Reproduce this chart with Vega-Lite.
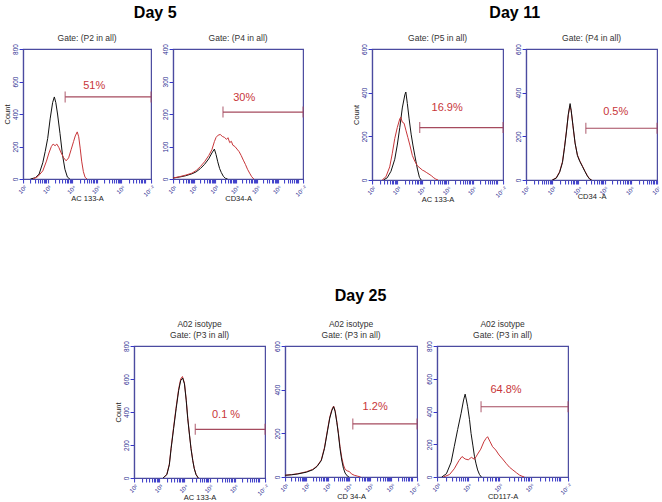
{
"$schema": "https://vega.github.io/schema/vega-lite/v6.json",
"padding": {"left": 2, "top": 5, "right": 0, "bottom": 0},
"background": "white",
"datasets": {
"curves": [
{"panel":"p1","series":"control","lx":2.3,"count":0},{"panel":"p1","series":"control","lx":2.5,"count":8},{"panel":"p1","series":"control","lx":2.65,"count":30},{"panel":"p1","series":"control","lx":2.8,"count":100},{"panel":"p1","series":"control","lx":2.9,"count":170},{"panel":"p1","series":"control","lx":3.0,"count":250},{"panel":"p1","series":"control","lx":3.1,"count":370},{"panel":"p1","series":"control","lx":3.2,"count":470},{"panel":"p1","series":"control","lx":3.27,"count":505},{"panel":"p1","series":"control","lx":3.33,"count":470},{"panel":"p1","series":"control","lx":3.4,"count":400},{"panel":"p1","series":"control","lx":3.5,"count":280},{"panel":"p1","series":"control","lx":3.6,"count":150},{"panel":"p1","series":"control","lx":3.7,"count":60},{"panel":"p1","series":"control","lx":3.8,"count":12},{"panel":"p1","series":"control","lx":3.9,"count":0},
{"panel":"p1","series":"sample","lx":2.4,"count":0},{"panel":"p1","series":"sample","lx":2.6,"count":15},{"panel":"p1","series":"sample","lx":2.8,"count":50},{"panel":"p1","series":"sample","lx":2.95,"count":110},{"panel":"p1","series":"sample","lx":3.05,"count":160},{"panel":"p1","series":"sample","lx":3.15,"count":200},{"panel":"p1","series":"sample","lx":3.22,"count":215},{"panel":"p1","series":"sample","lx":3.3,"count":205},{"panel":"p1","series":"sample","lx":3.37,"count":215},{"panel":"p1","series":"sample","lx":3.45,"count":195},{"panel":"p1","series":"sample","lx":3.55,"count":160},{"panel":"p1","series":"sample","lx":3.65,"count":130},{"panel":"p1","series":"sample","lx":3.75,"count":112},{"panel":"p1","series":"sample","lx":3.85,"count":130},{"panel":"p1","series":"sample","lx":3.95,"count":180},{"panel":"p1","series":"sample","lx":4.05,"count":230},{"panel":"p1","series":"sample","lx":4.12,"count":265},{"panel":"p1","series":"sample","lx":4.2,"count":290},{"panel":"p1","series":"sample","lx":4.26,"count":260},{"panel":"p1","series":"sample","lx":4.32,"count":190},{"panel":"p1","series":"sample","lx":4.38,"count":110},{"panel":"p1","series":"sample","lx":4.45,"count":45},{"panel":"p1","series":"sample","lx":4.52,"count":10},{"panel":"p1","series":"sample","lx":4.6,"count":0},
{"panel":"p2","series":"control","lx":1.0,"count":3},{"panel":"p2","series":"control","lx":1.3,"count":6},{"panel":"p2","series":"control","lx":1.6,"count":10},{"panel":"p2","series":"control","lx":1.9,"count":16},{"panel":"p2","series":"control","lx":2.1,"count":22},{"panel":"p2","series":"control","lx":2.3,"count":32},{"panel":"p2","series":"control","lx":2.5,"count":45},{"panel":"p2","series":"control","lx":2.7,"count":62},{"panel":"p2","series":"control","lx":2.85,"count":80},{"panel":"p2","series":"control","lx":2.97,"count":92},{"panel":"p2","series":"control","lx":3.05,"count":75},{"panel":"p2","series":"control","lx":3.13,"count":53},{"panel":"p2","series":"control","lx":3.22,"count":32},{"panel":"p2","series":"control","lx":3.3,"count":20},{"panel":"p2","series":"control","lx":3.4,"count":8},{"panel":"p2","series":"control","lx":3.5,"count":2},{"panel":"p2","series":"control","lx":3.6,"count":0},
{"panel":"p2","series":"sample","lx":1.0,"count":3},{"panel":"p2","series":"sample","lx":1.3,"count":7},{"panel":"p2","series":"sample","lx":1.6,"count":12},{"panel":"p2","series":"sample","lx":1.9,"count":18},{"panel":"p2","series":"sample","lx":2.1,"count":26},{"panel":"p2","series":"sample","lx":2.3,"count":38},{"panel":"p2","series":"sample","lx":2.5,"count":53},{"panel":"p2","series":"sample","lx":2.7,"count":72},{"panel":"p2","series":"sample","lx":2.85,"count":90},{"panel":"p2","series":"sample","lx":2.97,"count":115},{"panel":"p2","series":"sample","lx":3.05,"count":128},{"panel":"p2","series":"sample","lx":3.15,"count":135},{"panel":"p2","series":"sample","lx":3.25,"count":137},{"panel":"p2","series":"sample","lx":3.35,"count":131},{"panel":"p2","series":"sample","lx":3.45,"count":128},{"panel":"p2","series":"sample","lx":3.55,"count":122},{"panel":"p2","series":"sample","lx":3.62,"count":127},{"panel":"p2","series":"sample","lx":3.7,"count":112},{"panel":"p2","series":"sample","lx":3.78,"count":116},{"panel":"p2","series":"sample","lx":3.85,"count":104},{"panel":"p2","series":"sample","lx":3.95,"count":100},{"panel":"p2","series":"sample","lx":4.05,"count":92},{"panel":"p2","series":"sample","lx":4.15,"count":84},{"panel":"p2","series":"sample","lx":4.25,"count":72},{"panel":"p2","series":"sample","lx":4.35,"count":58},{"panel":"p2","series":"sample","lx":4.45,"count":45},{"panel":"p2","series":"sample","lx":4.55,"count":30},{"panel":"p2","series":"sample","lx":4.65,"count":18},{"panel":"p2","series":"sample","lx":4.75,"count":7},{"panel":"p2","series":"sample","lx":4.85,"count":0},
{"panel":"p3","series":"control","lx":2.45,"count":0},{"panel":"p3","series":"control","lx":2.6,"count":10},{"panel":"p3","series":"control","lx":2.75,"count":40},{"panel":"p3","series":"control","lx":2.9,"count":95},{"panel":"p3","series":"control","lx":3.0,"count":160},{"panel":"p3","series":"control","lx":3.1,"count":240},{"panel":"p3","series":"control","lx":3.2,"count":330},{"panel":"p3","series":"control","lx":3.3,"count":390},{"panel":"p3","series":"control","lx":3.34,"count":403},{"panel":"p3","series":"control","lx":3.4,"count":350},{"panel":"p3","series":"control","lx":3.47,"count":280},{"panel":"p3","series":"control","lx":3.55,"count":210},{"panel":"p3","series":"control","lx":3.62,"count":160},{"panel":"p3","series":"control","lx":3.7,"count":110},{"panel":"p3","series":"control","lx":3.8,"count":50},{"panel":"p3","series":"control","lx":3.88,"count":12},{"panel":"p3","series":"control","lx":3.95,"count":0},
{"panel":"p3","series":"sample","lx":2.4,"count":0},{"panel":"p3","series":"sample","lx":2.55,"count":15},{"panel":"p3","series":"sample","lx":2.7,"count":60},{"panel":"p3","series":"sample","lx":2.8,"count":120},{"panel":"p3","series":"sample","lx":2.9,"count":190},{"panel":"p3","series":"sample","lx":3.0,"count":240},{"panel":"p3","series":"sample","lx":3.1,"count":280},{"panel":"p3","series":"sample","lx":3.14,"count":288},{"panel":"p3","series":"sample","lx":3.2,"count":265},{"panel":"p3","series":"sample","lx":3.27,"count":260},{"panel":"p3","series":"sample","lx":3.35,"count":225},{"panel":"p3","series":"sample","lx":3.42,"count":195},{"panel":"p3","series":"sample","lx":3.5,"count":160},{"panel":"p3","series":"sample","lx":3.6,"count":112},{"panel":"p3","series":"sample","lx":3.7,"count":85},{"panel":"p3","series":"sample","lx":3.8,"count":65},{"panel":"p3","series":"sample","lx":3.9,"count":55},{"panel":"p3","series":"sample","lx":4.0,"count":45},{"panel":"p3","series":"sample","lx":4.06,"count":42},{"panel":"p3","series":"sample","lx":4.15,"count":35},{"panel":"p3","series":"sample","lx":4.26,"count":27},{"panel":"p3","series":"sample","lx":4.35,"count":20},{"panel":"p3","series":"sample","lx":4.45,"count":10},{"panel":"p3","series":"sample","lx":4.53,"count":4},{"panel":"p3","series":"sample","lx":4.62,"count":0},
{"panel":"p4","series":"sample","lx":3.0,"count":0},{"panel":"p4","series":"sample","lx":3.15,"count":10},{"panel":"p4","series":"sample","lx":3.28,"count":38},{"panel":"p4","series":"sample","lx":3.39,"count":85},{"panel":"p4","series":"sample","lx":3.47,"count":155},{"panel":"p4","series":"sample","lx":3.54,"count":225},{"panel":"p4","series":"sample","lx":3.61,"count":295},{"panel":"p4","series":"sample","lx":3.67,"count":340},{"panel":"p4","series":"sample","lx":3.72,"count":318},{"panel":"p4","series":"sample","lx":3.79,"count":245},{"panel":"p4","series":"sample","lx":3.87,"count":168},{"panel":"p4","series":"sample","lx":3.96,"count":115},{"panel":"p4","series":"sample","lx":4.05,"count":88},{"panel":"p4","series":"sample","lx":4.15,"count":64},{"panel":"p4","series":"sample","lx":4.25,"count":40},{"panel":"p4","series":"sample","lx":4.34,"count":20},{"panel":"p4","series":"sample","lx":4.42,"count":6},{"panel":"p4","series":"sample","lx":4.5,"count":0},
{"panel":"p4","series":"control","lx":3.0,"count":0},{"panel":"p4","series":"control","lx":3.15,"count":8},{"panel":"p4","series":"control","lx":3.28,"count":35},{"panel":"p4","series":"control","lx":3.39,"count":80},{"panel":"p4","series":"control","lx":3.47,"count":150},{"panel":"p4","series":"control","lx":3.54,"count":220},{"panel":"p4","series":"control","lx":3.61,"count":300},{"panel":"p4","series":"control","lx":3.68,"count":350},{"panel":"p4","series":"control","lx":3.72,"count":320},{"panel":"p4","series":"control","lx":3.79,"count":250},{"panel":"p4","series":"control","lx":3.87,"count":170},{"panel":"p4","series":"control","lx":3.96,"count":112},{"panel":"p4","series":"control","lx":4.05,"count":85},{"panel":"p4","series":"control","lx":4.15,"count":62},{"panel":"p4","series":"control","lx":4.25,"count":38},{"panel":"p4","series":"control","lx":4.34,"count":18},{"panel":"p4","series":"control","lx":4.42,"count":5},{"panel":"p4","series":"control","lx":4.5,"count":0},
{"panel":"p5","series":"sample","lx":3.15,"count":0},{"panel":"p5","series":"sample","lx":3.3,"count":22},{"panel":"p5","series":"sample","lx":3.4,"count":85},{"panel":"p5","series":"sample","lx":3.47,"count":185},{"panel":"p5","series":"sample","lx":3.57,"count":310},{"panel":"p5","series":"sample","lx":3.67,"count":430},{"panel":"p5","series":"sample","lx":3.77,"count":540},{"panel":"p5","series":"sample","lx":3.85,"count":600},{"panel":"p5","series":"sample","lx":3.92,"count":615},{"panel":"p5","series":"sample","lx":4.0,"count":575},{"panel":"p5","series":"sample","lx":4.07,"count":475},{"panel":"p5","series":"sample","lx":4.13,"count":365},{"panel":"p5","series":"sample","lx":4.2,"count":262},{"panel":"p5","series":"sample","lx":4.26,"count":180},{"panel":"p5","series":"sample","lx":4.33,"count":108},{"panel":"p5","series":"sample","lx":4.39,"count":58},{"panel":"p5","series":"sample","lx":4.46,"count":22},{"panel":"p5","series":"sample","lx":4.55,"count":0},
{"panel":"p5","series":"control","lx":3.15,"count":0},{"panel":"p5","series":"control","lx":3.3,"count":20},{"panel":"p5","series":"control","lx":3.4,"count":80},{"panel":"p5","series":"control","lx":3.47,"count":178},{"panel":"p5","series":"control","lx":3.57,"count":300},{"panel":"p5","series":"control","lx":3.67,"count":420},{"panel":"p5","series":"control","lx":3.77,"count":530},{"panel":"p5","series":"control","lx":3.85,"count":590},{"panel":"p5","series":"control","lx":3.93,"count":606},{"panel":"p5","series":"control","lx":4.0,"count":570},{"panel":"p5","series":"control","lx":4.07,"count":470},{"panel":"p5","series":"control","lx":4.13,"count":359},{"panel":"p5","series":"control","lx":4.2,"count":260},{"panel":"p5","series":"control","lx":4.26,"count":178},{"panel":"p5","series":"control","lx":4.33,"count":105},{"panel":"p5","series":"control","lx":4.39,"count":56},{"panel":"p5","series":"control","lx":4.46,"count":20},{"panel":"p5","series":"control","lx":4.55,"count":0},
{"panel":"p6","series":"sample","lx":1.0,"count":8},{"panel":"p6","series":"sample","lx":1.3,"count":11},{"panel":"p6","series":"sample","lx":1.6,"count":15},{"panel":"p6","series":"sample","lx":2.0,"count":24},{"panel":"p6","series":"sample","lx":2.3,"count":35},{"panel":"p6","series":"sample","lx":2.5,"count":50},{"panel":"p6","series":"sample","lx":2.7,"count":78},{"panel":"p6","series":"sample","lx":2.85,"count":135},{"panel":"p6","series":"sample","lx":3.0,"count":220},{"panel":"p6","series":"sample","lx":3.1,"count":275},{"panel":"p6","series":"sample","lx":3.2,"count":310},{"panel":"p6","series":"sample","lx":3.28,"count":325},{"panel":"p6","series":"sample","lx":3.35,"count":305},{"panel":"p6","series":"sample","lx":3.43,"count":255},{"panel":"p6","series":"sample","lx":3.5,"count":205},{"panel":"p6","series":"sample","lx":3.58,"count":140},{"panel":"p6","series":"sample","lx":3.66,"count":90},{"panel":"p6","series":"sample","lx":3.74,"count":55},{"panel":"p6","series":"sample","lx":3.82,"count":35},{"panel":"p6","series":"sample","lx":3.92,"count":28},{"panel":"p6","series":"sample","lx":4.02,"count":25},{"panel":"p6","series":"sample","lx":4.12,"count":14},{"panel":"p6","series":"sample","lx":4.25,"count":8},{"panel":"p6","series":"sample","lx":4.4,"count":4},{"panel":"p6","series":"sample","lx":4.55,"count":0},
{"panel":"p6","series":"control","lx":1.0,"count":8},{"panel":"p6","series":"control","lx":1.3,"count":10},{"panel":"p6","series":"control","lx":1.6,"count":14},{"panel":"p6","series":"control","lx":2.0,"count":22},{"panel":"p6","series":"control","lx":2.3,"count":33},{"panel":"p6","series":"control","lx":2.5,"count":48},{"panel":"p6","series":"control","lx":2.7,"count":75},{"panel":"p6","series":"control","lx":2.85,"count":130},{"panel":"p6","series":"control","lx":3.0,"count":215},{"panel":"p6","series":"control","lx":3.1,"count":270},{"panel":"p6","series":"control","lx":3.2,"count":305},{"panel":"p6","series":"control","lx":3.28,"count":322},{"panel":"p6","series":"control","lx":3.35,"count":300},{"panel":"p6","series":"control","lx":3.43,"count":250},{"panel":"p6","series":"control","lx":3.5,"count":200},{"panel":"p6","series":"control","lx":3.58,"count":130},{"panel":"p6","series":"control","lx":3.66,"count":78},{"panel":"p6","series":"control","lx":3.74,"count":40},{"panel":"p6","series":"control","lx":3.82,"count":18},{"panel":"p6","series":"control","lx":3.92,"count":5},{"panel":"p6","series":"control","lx":4.0,"count":0},
{"panel":"p7","series":"control","lx":3.15,"count":0},{"panel":"p7","series":"control","lx":3.3,"count":20},{"panel":"p7","series":"control","lx":3.45,"count":90},{"panel":"p7","series":"control","lx":3.55,"count":185},{"panel":"p7","series":"control","lx":3.66,"count":290},{"panel":"p7","series":"control","lx":3.77,"count":389},{"panel":"p7","series":"control","lx":3.85,"count":470},{"panel":"p7","series":"control","lx":3.9,"count":506},{"panel":"p7","series":"control","lx":3.94,"count":470},{"panel":"p7","series":"control","lx":3.98,"count":429},{"panel":"p7","series":"control","lx":4.04,"count":350},{"panel":"p7","series":"control","lx":4.09,"count":266},{"panel":"p7","series":"control","lx":4.15,"count":190},{"panel":"p7","series":"control","lx":4.2,"count":124},{"panel":"p7","series":"control","lx":4.25,"count":80},{"panel":"p7","series":"control","lx":4.3,"count":43},{"panel":"p7","series":"control","lx":4.36,"count":15},{"panel":"p7","series":"control","lx":4.42,"count":0},
{"panel":"p7","series":"sample","lx":3.2,"count":0},{"panel":"p7","series":"sample","lx":3.4,"count":15},{"panel":"p7","series":"sample","lx":3.55,"count":50},{"panel":"p7","series":"sample","lx":3.7,"count":100},{"panel":"p7","series":"sample","lx":3.8,"count":125},{"panel":"p7","series":"sample","lx":3.9,"count":110},{"panel":"p7","series":"sample","lx":4.0,"count":105},{"panel":"p7","series":"sample","lx":4.1,"count":120},{"panel":"p7","series":"sample","lx":4.2,"count":108},{"panel":"p7","series":"sample","lx":4.3,"count":140},{"panel":"p7","series":"sample","lx":4.4,"count":170},{"panel":"p7","series":"sample","lx":4.5,"count":215},{"panel":"p7","series":"sample","lx":4.57,"count":236},{"panel":"p7","series":"sample","lx":4.62,"count":246},{"panel":"p7","series":"sample","lx":4.7,"count":215},{"panel":"p7","series":"sample","lx":4.78,"count":185},{"panel":"p7","series":"sample","lx":4.88,"count":165},{"panel":"p7","series":"sample","lx":4.99,"count":134},{"panel":"p7","series":"sample","lx":5.1,"count":110},{"panel":"p7","series":"sample","lx":5.21,"count":84},{"panel":"p7","series":"sample","lx":5.32,"count":60},{"panel":"p7","series":"sample","lx":5.43,"count":43},{"panel":"p7","series":"sample","lx":5.55,"count":25},{"panel":"p7","series":"sample","lx":5.64,"count":12},{"panel":"p7","series":"sample","lx":5.72,"count":5},{"panel":"p7","series":"sample","lx":5.8,"count":0}
],
"gates": [
{"panel":"p1","x1":3.71,"x2":7.2,"gy":505,"label":"51%","tx":4.89,"ty":572},
{"panel":"p2","x1":3.38,"x2":7.2,"gy":206,"label":"30%","tx":4.39,"ty":249},
{"panel":"p3","x1":3.89,"x2":7.2,"gy":240,"label":"16.9%","tx":4.98,"ty":332},
{"panel":"p4","x1":4.28,"x2":7.0,"gy":237,"label":"0.5%","tx":5.42,"ty":311},
{"panel":"p5","x1":4.43,"x2":7.2,"gy":295,"label":"0.1 %","tx":5.65,"ty":382},
{"panel":"p6","x1":4.18,"x2":7.2,"gy":243,"label":"1.2%","tx":5.23,"ty":321},
{"panel":"p7","x1":4.41,"x2":7.2,"gy":429,"label":"64.8%","tx":5.21,"ty":531}
]
},
"vconcat": [
{"hconcat": [
 {"title": {"text": "Day 5", "fontSize": 16, "fontWeight": "bold", "color": "#000000", "anchor": "middle", "offset": 12},
  "bounds": "flush", "spacing": 22,
  "hconcat": [
  {"width": 128, "height": 130, "title": "Gate: (P2 in all)",
   "layer": [
    {"data": {"name": "curves"}, "transform": [{"filter": "datum.panel == 'p1'"}],
     "mark": {"type": "line", "strokeWidth": 1, "clip": true},
     "encoding": {
      "x": {"field": "lx", "type": "quantitative", "scale": {"domain": [2, 7.2], "nice": false, "zero": false},
            "axis": {"title": "AC 133-A", "tickCount": 200, "values": [2,2.301,2.477,2.602,2.699,2.778,2.845,2.903,2.954,3,3.301,3.477,3.602,3.699,3.778,3.845,3.903,3.954,4,4.301,4.477,4.602,4.699,4.778,4.845,4.903,4.954,5,5.301,5.477,5.602,5.699,5.778,5.845,5.903,5.954,6,6.301,6.477,6.602,6.699,6.778,6.845,6.903,6.954,7.2],
                     "labelExpr": "datum.value == 7.2 ? '10⁷·²' : (datum.value == floor(datum.value) ? '10' + ['⁰','¹','²','³','⁴','⁵','⁶','⁷'][datum.value] : '')"}},
      "y": {"field": "count", "type": "quantitative", "scale": {"domain": [0, 800], "nice": false},
            "axis": {"title": "Count", "tickCount": 50, "values": [0,200,400,600,800]}},
      "color": {"field": "series", "type": "nominal", "scale": {"domain": ["control", "sample"], "range": ["#111111", "#c8363a"]}, "legend": null}}},
    {"data": {"name": "gates"}, "transform": [{"filter": "datum.panel == 'p1'"}],
     "mark": {"type": "rule", "color": "#a54a5e", "strokeWidth": 1.2},
     "encoding": {"x": {"field": "x1", "type": "quantitative"}, "x2": {"field": "x2"}, "y": {"field": "gy", "type": "quantitative"}}},
    {"data": {"name": "gates"}, "transform": [{"filter": "datum.panel == 'p1'"}],
     "mark": {"type": "tick", "orient": "vertical", "size": 11, "thickness": 1.3, "color": "#a54a5e"},
     "encoding": {"x": {"field": "x1", "type": "quantitative"}, "y": {"field": "gy", "type": "quantitative"}}},
    {"data": {"name": "gates"}, "transform": [{"filter": "datum.panel == 'p1'"}],
     "mark": {"type": "tick", "orient": "vertical", "size": 11, "thickness": 1.3, "color": "#a54a5e"},
     "encoding": {"x": {"field": "x2", "type": "quantitative"}, "y": {"field": "gy", "type": "quantitative"}}},
    {"data": {"name": "gates"}, "transform": [{"filter": "datum.panel == 'p1'"}],
     "mark": {"type": "text", "color": "#c8363a", "fontSize": 11},
     "encoding": {"x": {"field": "tx", "type": "quantitative"}, "y": {"field": "ty", "type": "quantitative"}, "text": {"field": "label"}}}
   ]},
  {"width": 130, "height": 130, "title": "Gate: (P4 in all)",
   "layer": [
    {"data": {"name": "curves"}, "transform": [{"filter": "datum.panel == 'p2'"}],
     "mark": {"type": "line", "strokeWidth": 1, "clip": true},
     "encoding": {
      "x": {"field": "lx", "type": "quantitative", "scale": {"domain": [1, 7.2], "nice": false, "zero": false},
            "axis": {"title": "CD34-A", "tickCount": 200, "values": [1,1.301,1.477,1.602,1.699,1.778,1.845,1.903,1.954,2,2.301,2.477,2.602,2.699,2.778,2.845,2.903,2.954,3,3.301,3.477,3.602,3.699,3.778,3.845,3.903,3.954,4,4.301,4.477,4.602,4.699,4.778,4.845,4.903,4.954,5,5.301,5.477,5.602,5.699,5.778,5.845,5.903,5.954,6,6.301,6.477,6.602,6.699,6.778,6.845,6.903,6.954,7.2],
                     "labelExpr": "datum.value == 7.2 ? '10⁷·²' : (datum.value == floor(datum.value) ? '10' + ['⁰','¹','²','³','⁴','⁵','⁶','⁷'][datum.value] : '')"}},
      "y": {"field": "count", "type": "quantitative", "scale": {"domain": [0, 400], "nice": false},
            "axis": {"title": null, "tickCount": 50, "values": [0,100,200,300,400]}},
      "color": {"field": "series", "type": "nominal", "scale": {"domain": ["control", "sample"], "range": ["#111111", "#c8363a"]}, "legend": null}}},
    {"data": {"name": "gates"}, "transform": [{"filter": "datum.panel == 'p2'"}],
     "mark": {"type": "rule", "color": "#a54a5e", "strokeWidth": 1.2},
     "encoding": {"x": {"field": "x1", "type": "quantitative"}, "x2": {"field": "x2"}, "y": {"field": "gy", "type": "quantitative"}}},
    {"data": {"name": "gates"}, "transform": [{"filter": "datum.panel == 'p2'"}],
     "mark": {"type": "tick", "orient": "vertical", "size": 11, "thickness": 1.3, "color": "#a54a5e"},
     "encoding": {"x": {"field": "x1", "type": "quantitative"}, "y": {"field": "gy", "type": "quantitative"}}},
    {"data": {"name": "gates"}, "transform": [{"filter": "datum.panel == 'p2'"}],
     "mark": {"type": "tick", "orient": "vertical", "size": 11, "thickness": 1.3, "color": "#a54a5e"},
     "encoding": {"x": {"field": "x2", "type": "quantitative"}, "y": {"field": "gy", "type": "quantitative"}}},
    {"data": {"name": "gates"}, "transform": [{"filter": "datum.panel == 'p2'"}],
     "mark": {"type": "text", "color": "#c8363a", "fontSize": 11},
     "encoding": {"x": {"field": "tx", "type": "quantitative"}, "y": {"field": "ty", "type": "quantitative"}, "text": {"field": "label"}}}
   ]}
 ]},
 {"title": {"text": "Day 11", "fontSize": 16, "fontWeight": "bold", "color": "#000000", "anchor": "middle", "offset": 12, "dx": 8},
  "bounds": "flush", "spacing": 23,
  "hconcat": [
  {"width": 131, "height": 131, "title": "Gate: (P5 in all)",
   "layer": [
    {"data": {"name": "curves"}, "transform": [{"filter": "datum.panel == 'p3'"}],
     "mark": {"type": "line", "strokeWidth": 1, "clip": true},
     "encoding": {
      "x": {"field": "lx", "type": "quantitative", "scale": {"domain": [2, 7.2], "nice": false, "zero": false},
            "axis": {"title": "AC 133-A", "tickCount": 200, "values": [2,2.301,2.477,2.602,2.699,2.778,2.845,2.903,2.954,3,3.301,3.477,3.602,3.699,3.778,3.845,3.903,3.954,4,4.301,4.477,4.602,4.699,4.778,4.845,4.903,4.954,5,5.301,5.477,5.602,5.699,5.778,5.845,5.903,5.954,6,6.301,6.477,6.602,6.699,6.778,6.845,6.903,6.954,7.2],
                     "labelExpr": "datum.value == 7.2 ? '10⁷·²' : (datum.value == floor(datum.value) ? '10' + ['⁰','¹','²','³','⁴','⁵','⁶','⁷'][datum.value] : '')"}},
      "y": {"field": "count", "type": "quantitative", "scale": {"domain": [0, 600], "nice": false},
            "axis": {"title": "Count", "tickCount": 50, "values": [0,200,400,600]}},
      "color": {"field": "series", "type": "nominal", "scale": {"domain": ["control", "sample"], "range": ["#111111", "#c8363a"]}, "legend": null}}},
    {"data": {"name": "gates"}, "transform": [{"filter": "datum.panel == 'p3'"}],
     "mark": {"type": "rule", "color": "#a54a5e", "strokeWidth": 1.2},
     "encoding": {"x": {"field": "x1", "type": "quantitative"}, "x2": {"field": "x2"}, "y": {"field": "gy", "type": "quantitative"}}},
    {"data": {"name": "gates"}, "transform": [{"filter": "datum.panel == 'p3'"}],
     "mark": {"type": "tick", "orient": "vertical", "size": 11, "thickness": 1.3, "color": "#a54a5e"},
     "encoding": {"x": {"field": "x1", "type": "quantitative"}, "y": {"field": "gy", "type": "quantitative"}}},
    {"data": {"name": "gates"}, "transform": [{"filter": "datum.panel == 'p3'"}],
     "mark": {"type": "tick", "orient": "vertical", "size": 11, "thickness": 1.3, "color": "#a54a5e"},
     "encoding": {"x": {"field": "x2", "type": "quantitative"}, "y": {"field": "gy", "type": "quantitative"}}},
    {"data": {"name": "gates"}, "transform": [{"filter": "datum.panel == 'p3'"}],
     "mark": {"type": "text", "color": "#c8363a", "fontSize": 11},
     "encoding": {"x": {"field": "tx", "type": "quantitative"}, "y": {"field": "ty", "type": "quantitative"}, "text": {"field": "label"}}}
   ]},
  {"width": 131, "height": 131, "title": "Gate: (P4 in all)",
   "layer": [
    {"data": {"name": "curves"}, "transform": [{"filter": "datum.panel == 'p4'"}],
     "mark": {"type": "line", "strokeWidth": 1, "clip": true},
     "encoding": {
      "x": {"field": "lx", "type": "quantitative", "scale": {"domain": [2, 7], "nice": false, "zero": false},
            "axis": {"title": "CD34 -A", "tickCount": 200, "values": [2,2.301,2.477,2.602,2.699,2.778,2.845,2.903,2.954,3,3.301,3.477,3.602,3.699,3.778,3.845,3.903,3.954,4,4.301,4.477,4.602,4.699,4.778,4.845,4.903,4.954,5,5.301,5.477,5.602,5.699,5.778,5.845,5.903,5.954,6,6.301,6.477,6.602,6.699,6.778,6.845,6.903,6.954,7],
                     "labelExpr": "datum.value == 7.2 ? '10⁷·²' : (datum.value == floor(datum.value) ? '10' + ['⁰','¹','²','³','⁴','⁵','⁶','⁷'][datum.value] : '')"}},
      "y": {"field": "count", "type": "quantitative", "scale": {"domain": [0, 600], "nice": false},
            "axis": {"title": null, "tickCount": 50, "values": [0,200,400,600]}},
      "color": {"field": "series", "type": "nominal", "scale": {"domain": ["control", "sample"], "range": ["#111111", "#c8363a"]}, "legend": null}}},
    {"data": {"name": "gates"}, "transform": [{"filter": "datum.panel == 'p4'"}],
     "mark": {"type": "rule", "color": "#a54a5e", "strokeWidth": 1.2},
     "encoding": {"x": {"field": "x1", "type": "quantitative"}, "x2": {"field": "x2"}, "y": {"field": "gy", "type": "quantitative"}}},
    {"data": {"name": "gates"}, "transform": [{"filter": "datum.panel == 'p4'"}],
     "mark": {"type": "tick", "orient": "vertical", "size": 11, "thickness": 1.3, "color": "#a54a5e"},
     "encoding": {"x": {"field": "x1", "type": "quantitative"}, "y": {"field": "gy", "type": "quantitative"}}},
    {"data": {"name": "gates"}, "transform": [{"filter": "datum.panel == 'p4'"}],
     "mark": {"type": "tick", "orient": "vertical", "size": 11, "thickness": 1.3, "color": "#a54a5e"},
     "encoding": {"x": {"field": "x2", "type": "quantitative"}, "y": {"field": "gy", "type": "quantitative"}}},
    {"data": {"name": "gates"}, "transform": [{"filter": "datum.panel == 'p4'"}],
     "mark": {"type": "text", "color": "#c8363a", "fontSize": 11},
     "encoding": {"x": {"field": "tx", "type": "quantitative"}, "y": {"field": "ty", "type": "quantitative"}, "text": {"field": "label"}}}
   ]}
 ]}
], "spacing": 43},
{"title": {"text": "Day 25", "fontSize": 16, "fontWeight": "bold", "color": "#000000", "anchor": "middle", "offset": 15, "dx": 18},
 "bounds": "flush", "spacing": 20,
 "hconcat": [
  {"width": 2, "height": 131, "data": {"values": []}, "mark": "point", "view": {"stroke": null}},
  {"width": 131, "height": 132, "title": {"text": ["A02 isotype", "Gate: (P3 in all)"]},
   "layer": [
    {"data": {"name": "curves"}, "transform": [{"filter": "datum.panel == 'p5'"}],
     "mark": {"type": "line", "strokeWidth": 1, "clip": true},
     "encoding": {
      "x": {"field": "lx", "type": "quantitative", "scale": {"domain": [2, 7.2], "nice": false, "zero": false},
            "axis": {"title": "AC 133-A", "tickCount": 200, "values": [2,2.301,2.477,2.602,2.699,2.778,2.845,2.903,2.954,3,3.301,3.477,3.602,3.699,3.778,3.845,3.903,3.954,4,4.301,4.477,4.602,4.699,4.778,4.845,4.903,4.954,5,5.301,5.477,5.602,5.699,5.778,5.845,5.903,5.954,6,6.301,6.477,6.602,6.699,6.778,6.845,6.903,6.954,7.2],
                     "labelExpr": "datum.value == 7.2 ? '10⁷·²' : (datum.value == floor(datum.value) ? '10' + ['⁰','¹','²','³','⁴','⁵','⁶','⁷'][datum.value] : '')"}},
      "y": {"field": "count", "type": "quantitative", "scale": {"domain": [0, 800], "nice": false},
            "axis": {"title": "Count", "tickCount": 50, "values": [0,200,400,600,800]}},
      "color": {"field": "series", "type": "nominal", "scale": {"domain": ["control", "sample"], "range": ["#111111", "#c8363a"]}, "legend": null}}},
    {"data": {"name": "gates"}, "transform": [{"filter": "datum.panel == 'p5'"}],
     "mark": {"type": "rule", "color": "#a54a5e", "strokeWidth": 1.2},
     "encoding": {"x": {"field": "x1", "type": "quantitative"}, "x2": {"field": "x2"}, "y": {"field": "gy", "type": "quantitative"}}},
    {"data": {"name": "gates"}, "transform": [{"filter": "datum.panel == 'p5'"}],
     "mark": {"type": "tick", "orient": "vertical", "size": 11, "thickness": 1.3, "color": "#a54a5e"},
     "encoding": {"x": {"field": "x1", "type": "quantitative"}, "y": {"field": "gy", "type": "quantitative"}}},
    {"data": {"name": "gates"}, "transform": [{"filter": "datum.panel == 'p5'"}],
     "mark": {"type": "tick", "orient": "vertical", "size": 11, "thickness": 1.3, "color": "#a54a5e"},
     "encoding": {"x": {"field": "x2", "type": "quantitative"}, "y": {"field": "gy", "type": "quantitative"}}},
    {"data": {"name": "gates"}, "transform": [{"filter": "datum.panel == 'p5'"}],
     "mark": {"type": "text", "color": "#c8363a", "fontSize": 11},
     "encoding": {"x": {"field": "tx", "type": "quantitative"}, "y": {"field": "ty", "type": "quantitative"}, "text": {"field": "label"}}}
   ]},
  {"width": 132, "height": 131, "title": {"text": ["A02 isotype", "Gate: (P3 in all)"]},
   "layer": [
    {"data": {"name": "curves"}, "transform": [{"filter": "datum.panel == 'p6'"}],
     "mark": {"type": "line", "strokeWidth": 1, "clip": true},
     "encoding": {
      "x": {"field": "lx", "type": "quantitative", "scale": {"domain": [1, 7.2], "nice": false, "zero": false},
            "axis": {"title": "CD 34-A", "tickCount": 200, "values": [1,1.301,1.477,1.602,1.699,1.778,1.845,1.903,1.954,2,2.301,2.477,2.602,2.699,2.778,2.845,2.903,2.954,3,3.301,3.477,3.602,3.699,3.778,3.845,3.903,3.954,4,4.301,4.477,4.602,4.699,4.778,4.845,4.903,4.954,5,5.301,5.477,5.602,5.699,5.778,5.845,5.903,5.954,6,6.301,6.477,6.602,6.699,6.778,6.845,6.903,6.954,7.2],
                     "labelExpr": "datum.value == 7.2 ? '10⁷·²' : (datum.value == floor(datum.value) ? '10' + ['⁰','¹','²','³','⁴','⁵','⁶','⁷'][datum.value] : '')"}},
      "y": {"field": "count", "type": "quantitative", "scale": {"domain": [0, 600], "nice": false},
            "axis": {"title": null, "tickCount": 50, "values": [0,200,400,600]}},
      "color": {"field": "series", "type": "nominal", "scale": {"domain": ["control", "sample"], "range": ["#111111", "#c8363a"]}, "legend": null}}},
    {"data": {"name": "gates"}, "transform": [{"filter": "datum.panel == 'p6'"}],
     "mark": {"type": "rule", "color": "#a54a5e", "strokeWidth": 1.2},
     "encoding": {"x": {"field": "x1", "type": "quantitative"}, "x2": {"field": "x2"}, "y": {"field": "gy", "type": "quantitative"}}},
    {"data": {"name": "gates"}, "transform": [{"filter": "datum.panel == 'p6'"}],
     "mark": {"type": "tick", "orient": "vertical", "size": 11, "thickness": 1.3, "color": "#a54a5e"},
     "encoding": {"x": {"field": "x1", "type": "quantitative"}, "y": {"field": "gy", "type": "quantitative"}}},
    {"data": {"name": "gates"}, "transform": [{"filter": "datum.panel == 'p6'"}],
     "mark": {"type": "tick", "orient": "vertical", "size": 11, "thickness": 1.3, "color": "#a54a5e"},
     "encoding": {"x": {"field": "x2", "type": "quantitative"}, "y": {"field": "gy", "type": "quantitative"}}},
    {"data": {"name": "gates"}, "transform": [{"filter": "datum.panel == 'p6'"}],
     "mark": {"type": "text", "color": "#c8363a", "fontSize": 11},
     "encoding": {"x": {"field": "tx", "type": "quantitative"}, "y": {"field": "ty", "type": "quantitative"}, "text": {"field": "label"}}}
   ]},
  {"width": 131, "height": 131, "title": {"text": ["A02 isotype", "Gate: (P3 in all)"]},
   "layer": [
    {"data": {"name": "curves"}, "transform": [{"filter": "datum.panel == 'p7'"}],
     "mark": {"type": "line", "strokeWidth": 1, "clip": true},
     "encoding": {
      "x": {"field": "lx", "type": "quantitative", "scale": {"domain": [3, 7.2], "nice": false, "zero": false},
            "axis": {"title": "CD117-A", "tickCount": 200, "values": [3,3.301,3.477,3.602,3.699,3.778,3.845,3.903,3.954,4,4.301,4.477,4.602,4.699,4.778,4.845,4.903,4.954,5,5.301,5.477,5.602,5.699,5.778,5.845,5.903,5.954,6,6.301,6.477,6.602,6.699,6.778,6.845,6.903,6.954,7.2],
                     "labelExpr": "datum.value == 7.2 ? '10⁷·²' : (datum.value == floor(datum.value) ? '10' + ['⁰','¹','²','³','⁴','⁵','⁶','⁷'][datum.value] : '')"}},
      "y": {"field": "count", "type": "quantitative", "scale": {"domain": [0, 800], "nice": false},
            "axis": {"title": null, "tickCount": 50, "values": [0,200,400,600,800]}},
      "color": {"field": "series", "type": "nominal", "scale": {"domain": ["control", "sample"], "range": ["#111111", "#c8363a"]}, "legend": null}}},
    {"data": {"name": "gates"}, "transform": [{"filter": "datum.panel == 'p7'"}],
     "mark": {"type": "rule", "color": "#a54a5e", "strokeWidth": 1.2},
     "encoding": {"x": {"field": "x1", "type": "quantitative"}, "x2": {"field": "x2"}, "y": {"field": "gy", "type": "quantitative"}}},
    {"data": {"name": "gates"}, "transform": [{"filter": "datum.panel == 'p7'"}],
     "mark": {"type": "tick", "orient": "vertical", "size": 11, "thickness": 1.3, "color": "#a54a5e"},
     "encoding": {"x": {"field": "x1", "type": "quantitative"}, "y": {"field": "gy", "type": "quantitative"}}},
    {"data": {"name": "gates"}, "transform": [{"filter": "datum.panel == 'p7'"}],
     "mark": {"type": "tick", "orient": "vertical", "size": 11, "thickness": 1.3, "color": "#a54a5e"},
     "encoding": {"x": {"field": "x2", "type": "quantitative"}, "y": {"field": "gy", "type": "quantitative"}}},
    {"data": {"name": "gates"}, "transform": [{"filter": "datum.panel == 'p7'"}],
     "mark": {"type": "text", "color": "#c8363a", "fontSize": 11},
     "encoding": {"x": {"field": "tx", "type": "quantitative"}, "y": {"field": "ty", "type": "quantitative"}, "text": {"field": "label"}}}
   ]}
 ]}
],
"spacing": 84,
"center": true,
"config": {
 "font": "Liberation Sans",
 "view": {"stroke": "#4b4ba0", "strokeWidth": 1.2},
 "axis": {"domainColor": "#4b4ba0", "domainWidth": 1.2, "tickColor": "#3535c8", "tickSize": 4, "labelColor": "#2b2b90", "labelFont": "Liberation Sans", "labelFontSize": 6, "labelPadding": 1, "labelOverlap": false, "labelFlush": false, "titleFont": "Liberation Sans", "titleFontSize": 7.5, "titleFontWeight": "normal", "titleColor": "#222222", "titlePadding": 1, "grid": false},
 "axisX": {"labelAngle": -45, "titlePadding": -3},
 "axisY": {"labelAngle": -90, "labelFontSize": 6.5},
 "title": {"font": "Liberation Sans", "fontSize": 8.5, "fontWeight": "normal", "color": "#333333", "offset": 1, "lineHeight": 11}
}
}
